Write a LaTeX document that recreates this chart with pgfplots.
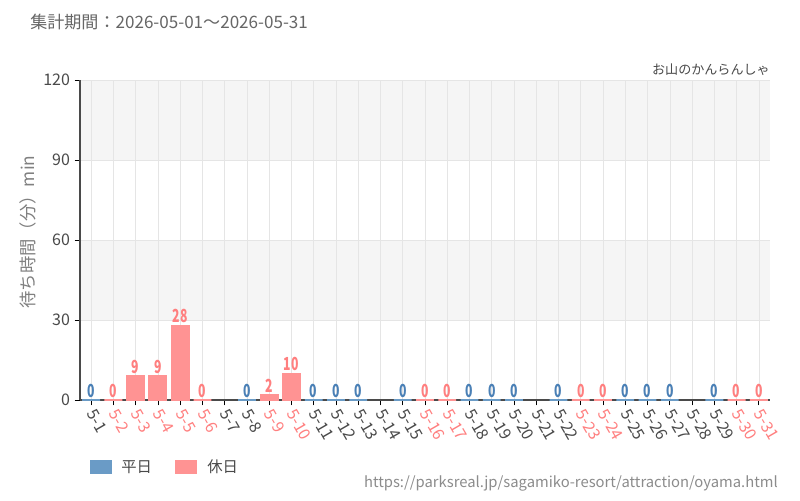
\documentclass[border=0pt]{standalone}
\usepackage{pgfplots}
\pgfplotsset{compat=1.18}
\usepackage{fontspec}
\setmainfont{Noto Sans CJK JP}
\definecolor{wkd}{HTML}{6A9BC6}
\definecolor{hol}{HTML}{FF9393}
\definecolor{wkdlab}{HTML}{4A80B6}
\definecolor{hollab}{HTML}{FF7F7F}
\definecolor{txt}{HTML}{4A4A4A}
\definecolor{band}{HTML}{F5F5F5}
\begin{document}
\begin{tikzpicture}
\path[use as bounding box,fill=white] (0,0) rectangle (600pt,375pt);
\fill[band] (60pt,135pt) rectangle (577.5pt,195pt);
\fill[band] (60pt,255pt) rectangle (577.5pt,315pt);
\begin{axis}[
  at={(60pt,75pt)}, anchor=south west,
  width=517.5pt, height=240pt, scale only axis,
  xmin=-0.5, xmax=30.5, ymin=0, ymax=120,
  ytick={0,30,60,90,120},
  xtick={0,...,30},
  xticklabels={5-1,\textcolor{hollab}{5-2},\textcolor{hollab}{5-3},\textcolor{hollab}{5-4},\textcolor{hollab}{5-5},\textcolor{hollab}{5-6},5-7,5-8,\textcolor{hollab}{5-9},\textcolor{hollab}{5-10},5-11,5-12,5-13,5-14,5-15,\textcolor{hollab}{5-16},\textcolor{hollab}{5-17},5-18,5-19,5-20,5-21,5-22,\textcolor{hollab}{5-23},\textcolor{hollab}{5-24},5-25,5-26,5-27,5-28,5-29,\textcolor{hollab}{5-30},\textcolor{hollab}{5-31}},
  axis x line*=bottom, axis y line*=left,
  axis line style={color=txt, line width=0.8pt},
  tick align=outside, major tick length=4pt,
  tick style={color=black, line width=0.6pt},
  xmajorgrids, ymajorgrids,
  grid style={color=black!10, line width=0.5pt},
  /pgf/number format/assume math mode=true,
  yticklabel style={font=\fontsize{12}{12}\selectfont, text=txt},
  xticklabel style={font=\fontsize{12}{12}\selectfont, text=txt, xshift=-0.3pt, yshift=-3.9pt, rotate=-60, anchor=west, inner sep=0pt},
  bar width=0.8,
  clip=false,
]
\addplot[ybar, bar shift=0pt, fill=wkd, draw=wkd, line width=0.8pt,
  nodes near coords={\scalebox{0.68}[1]{\pgfmathprintnumber\pgfplotspointmeta}},
  every node near coord/.append style={text=wkdlab, font=\fontsize{13.5}{13.5}\selectfont\bfseries, inner sep=1.5pt}] coordinates {
  (0,0) (7,0) (10,0) (11,0) (12,0) (14,0) (17,0) (18,0) (19,0) (21,0) (24,0) (25,0) (26,0) (28,0)};
\addplot[ybar, bar shift=0pt, fill=hol, draw=hol, line width=0.8pt,
  nodes near coords={\scalebox{0.68}[1]{\pgfmathprintnumber\pgfplotspointmeta}},
  every node near coord/.append style={text=hollab, font=\fontsize{13.5}{13.5}\selectfont\bfseries, inner sep=1.5pt}] coordinates {
  (1,0) (2,9) (3,9) (4,28) (5,0) (8,2) (9,10) (15,0) (16,0) (22,0) (23,0) (29,0) (30,0)};
\end{axis}
\node[anchor=west, inner sep=0pt, text=black!60, font=\fontsize{12.8}{13}\selectfont] at (22.5pt,358.5pt) {集計期間：2026-05-01～2026-05-31};
\node[anchor=east, inner sep=0pt, text=txt, font=\fontsize{9.8}{11}\selectfont] at (577.5pt,322.5pt) {お山のかんらんしゃ};
\node[rotate=90, inner sep=0pt, text=black!50, font=\fontsize{13}{13}\selectfont] at (21pt,201pt) {待ち時間（分）min};
\fill[wkd] (67.5pt,19.5pt) rectangle (84pt,30pt);
\node[anchor=west, inner sep=0pt, text=txt, font=\fontsize{11.5}{12}\selectfont] at (90.75pt,24.75pt) {平日};
\fill[hol] (131.25pt,19.5pt) rectangle (147.75pt,30pt);
\node[anchor=west, inner sep=0pt, text=txt, font=\fontsize{11.5}{12}\selectfont] at (155.25pt,24.75pt) {休日};
\node[anchor=east, inner sep=0pt, text=black!45, font=\fontsize{11.1}{12}\selectfont] at (583.5pt,12.75pt) {https://parksreal.jp/sagamiko-resort/attraction/oyama.html};
\end{tikzpicture}
\end{document}
